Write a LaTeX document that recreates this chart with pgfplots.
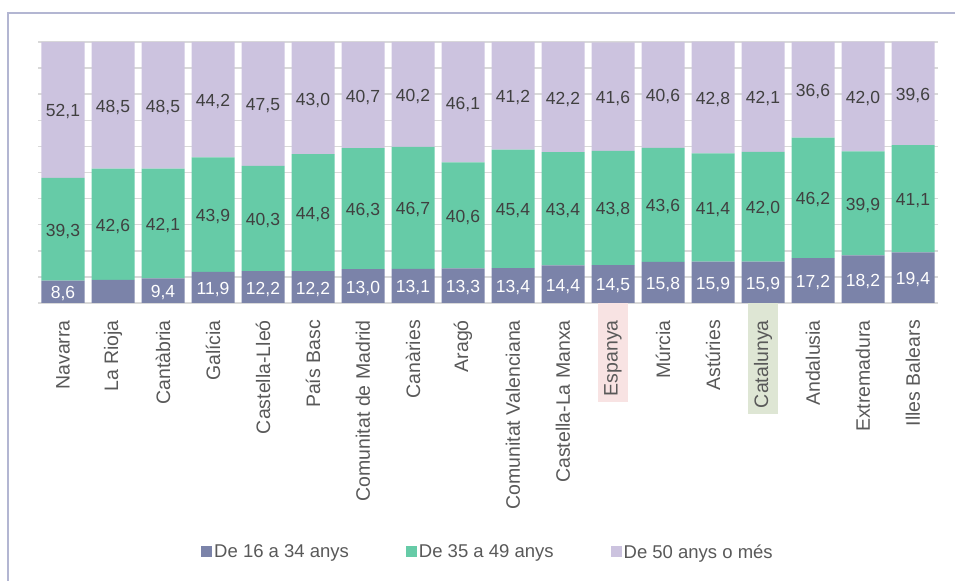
\documentclass[border=0pt]{standalone}
\usepackage{pgfplots}
\pgfplotsset{compat=1.18}
\usepackage{pgfplotstable}
\usepackage{fontspec}
\setmainfont{Liberation Sans}

\definecolor{cjove}{HTML}{7B83A9}
\definecolor{cmig}{HTML}{66CBA7}
\definecolor{cgran}{HTML}{CCC3DF}
\definecolor{txtgray}{HTML}{595959}
\definecolor{lblgray}{HTML}{404040}
\definecolor{gridgray}{HTML}{D9D9D9}
\definecolor{frame}{HTML}{B3B6D2}
\definecolor{hlesp}{HTML}{F8E3E3}
\definecolor{hlcat}{HTML}{DEE6D4}

\DeclareRobustCommand{\lb}[1]{#1\kern17bp}
\DeclareRobustCommand{\hl}[2]{{\setlength{\fboxsep}{6bp}\colorbox{#1}{#2\kern11bp}}}

% a: 16-34, b: 35-49, c: 50+
\pgfplotstableread{
x a b c
0 8.6 39.3 52.1
1 8.9 42.6 48.5
2 9.4 42.1 48.5
3 11.9 43.9 44.2
4 12.2 40.3 47.5
5 12.2 44.8 43.0
6 13.0 46.3 40.7
7 13.1 46.7 40.2
8 13.3 40.6 46.1
9 13.4 45.4 41.2
10 14.4 43.4 42.2
11 14.5 43.8 41.6
12 15.8 43.6 40.6
13 15.9 41.4 42.8
14 15.9 42.0 42.1
15 17.2 46.2 36.6
16 18.2 39.9 42.0
17 19.4 41.1 39.6
}\data
\pgfplotstablecreatecol[expr={\thisrow{a}/2}]{ma}\data
\pgfplotstablecreatecol[expr={\thisrow{a}+\thisrow{b}/2}]{mb}\data
\pgfplotstablecreatecol[expr={\thisrow{a}+\thisrow{b}+\thisrow{c}/2}]{mc}\data

\pgfplotsset{
  base/.style={
    scale only axis, width=900bp, height=261bp,
    at={(38bp,278bp)}, anchor=south west,
    xmin=-0.5, xmax=17.5, ymin=0, ymax=100,
  },
  sq/.style={legend image code/.code={\fill[##1, draw=none] (0bp,-5.5bp) rectangle (11bp,5.5bp);}},
}

\begin{document}
\begin{tikzpicture}
\useasboundingbox (0,0) rectangle (955bp,581bp);
\draw[frame, line width=2bp] (8bp,0) -- (8bp,568bp) -- (955bp,568bp);

\begin{axis}[base,
    ybar stacked, bar width=43bp,
    axis line style={draw=none},
    major tick length=0pt,
    ytick={0,10,...,100}, yticklabels={},
    ymajorgrids, grid style={gridgray, line width=1.5bp},
    xtick={0,...,17},
    xticklabels={\lb{Navarra},\lb{La Rioja},\lb{Cantàbria},\lb{Galícia},\lb{Castella-Lleó},\lb{País Basc},\lb{Comunitat de Madrid},\lb{Canàries},\lb{Aragó},\lb{Comunitat Valenciana},\lb{Castella-La Manxa},\hl{hlesp}{Espanya},\lb{Múrcia},\lb{Astúries},\hl{hlcat}{Catalunya},\lb{Andalusia},\lb{Extremadura},\lb{Illes Balears}},
    xticklabel style={rotate=90, anchor=east, inner sep=0pt, text=txtgray,
      font=\fontsize{19.5bp}{22bp}\selectfont},
    legend style={at={(0.5,-0.954)}, anchor=center, draw=none,
      font=\fontsize{18.5bp}{21bp}\selectfont, text=txtgray,
      /tikz/every even column/.append style={column sep=55bp}},
    legend columns=-1,
  ]
\addplot[fill=cjove, draw=none, sq] table[x=x, y=a] {\data};
\addplot[fill=cmig, draw=none, sq] table[x=x, y=b] {\data};
\addplot[fill=cgran, draw=none, sq] table[x=x, y=c] {\data};
\legend{De 16 a 34 anys, De 35 a 49 anys, De 50 anys o més}
\end{axis}

\begin{axis}[base, hide axis, clip=false,
    /pgf/number format/.cd, fixed, fixed zerofill, precision=1, use comma, assume math mode=true,
    /pgfplots/.cd,
    nodes near coords,
    point meta=explicit,
    every node near coord/.style={anchor=center, yshift=-2bp,
      font=\fontsize{17.5bp}{20bp}\selectfont},
  ]
\addplot[draw=none, mark=none, x filter/.expression={x==1 ? nan : x},
  every node near coord/.append style={text=white}]
  table[x=x, y=ma, meta=a] {\data};
\addplot[draw=none, mark=none, every node near coord/.append style={text=lblgray}]
  table[x=x, y=mb, meta=b] {\data};
\addplot[draw=none, mark=none, every node near coord/.append style={text=lblgray}]
  table[x=x, y=mc, meta=c] {\data};
\end{axis}
\end{tikzpicture}
\end{document}
